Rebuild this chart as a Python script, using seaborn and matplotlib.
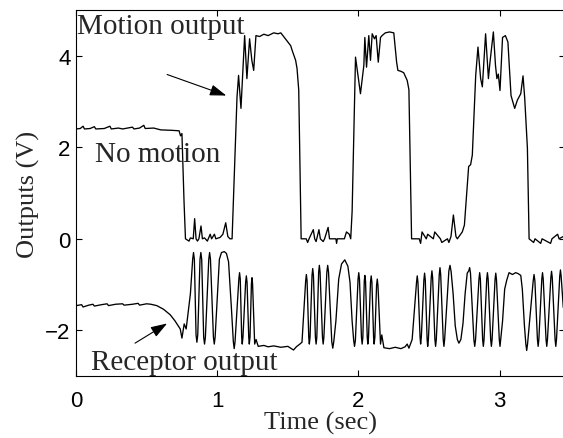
import matplotlib
matplotlib.use("Agg")
import matplotlib.pyplot as plt
import seaborn as sns
import pandas as pd

sns.set_theme(style="ticks")
SERIF = ["Liberation Serif", "DejaVu Serif"]
SANS = ["Liberation Sans", "DejaVu Sans"]
plt.rcParams['font.family'] = SANS

# Motion output trace (time in s, volts)
motion_t = [0.00, 0.03, 0.05, 0.06, 0.10, 0.13, 0.14, 0.20, 0.24, 0.25, 0.30, 0.33, 0.40, 0.41,
            0.45, 0.48, 0.49, 0.55, 0.60, 0.68, 0.73, 0.74, 0.75, 0.765, 0.775,
            0.80, 0.81, 0.83, 0.84, 0.85, 0.86, 0.87, 0.885, 0.895, 0.91, 0.93, 0.95, 0.96,
            0.98, 0.99, 1.02, 1.04, 1.06, 1.075, 1.09, 1.105,
            1.14, 1.151, 1.168, 1.194, 1.21, 1.229, 1.245, 1.258, 1.274, 1.30, 1.33, 1.36,
            1.40, 1.43, 1.45, 1.48, 1.50, 1.52, 1.53, 1.555, 1.565, 1.577, 1.594,
            1.63, 1.64, 1.65, 1.68, 1.69, 1.70, 1.72, 1.73, 1.75, 1.76, 1.785, 1.795,
            1.84, 1.845, 1.85, 1.90, 1.915, 1.935, 1.945,
            1.955, 1.979, 2.014, 2.038, 2.045, 2.057, 2.073, 2.085, 2.097, 2.113, 2.125,
            2.140, 2.156, 2.167, 2.19, 2.22, 2.25, 2.27, 2.279, 2.30, 2.32, 2.345, 2.357, 2.376,
            2.43, 2.44, 2.45, 2.48, 2.49, 2.53, 2.54, 2.58, 2.59, 2.63, 2.64, 2.655, 2.672,
            2.69, 2.70, 2.735, 2.75, 2.764, 2.78, 2.794, 2.806,
            2.83, 2.846, 2.865, 2.877, 2.90, 2.92, 2.93, 2.955, 2.97, 2.98, 2.99, 3.002,
            3.02, 3.04, 3.058, 3.08, 3.106, 3.125, 3.149, 3.165, 3.177, 3.196, 3.208,
            3.24, 3.25, 3.29, 3.30, 3.36, 3.37, 3.41, 3.42, 3.45]
motion_v = [2.40, 2.41, 2.46, 2.40, 2.41, 2.45, 2.40, 2.41, 2.46, 2.40, 2.42, 2.40, 2.44, 2.40,
            2.42, 2.48, 2.41, 2.42, 2.38, 2.37, 2.36, 2.25, 2.30, 0.80, 0.00,
            -0.05, 0.02, 0.00, 0.44, 0.00, -0.05, 0.00, 0.28, 0.00, 0.02, -0.05, 0.10, 0.00,
            0.10, 0.00, 0.03, 0.10, 0.35, 0.05, 0.00, 0.00,
            3.10, 3.57, 2.85, 4.44, 3.50, 4.37, 3.90, 3.68, 4.44, 4.42, 4.47, 4.44,
            4.50, 4.48, 4.50, 4.38, 4.30, 4.22, 4.12, 3.90, 3.72, 3.25, 0.00,
            0.00, -0.08, 0.00, 0.20, 0.00, -0.06, 0.20, 0.00, -0.06, 0.00, 0.25, 0.00,
            0.00, -0.10, 0.00, 0.00, 0.15, 0.10, 0.00,
            0.60, 3.97, 3.17, 3.79, 4.40, 3.75, 4.44, 3.90, 4.48, 4.37, 4.44,
            3.86, 4.40, 4.44, 4.50, 4.52, 4.50, 3.86, 3.68, 3.66, 3.63, 3.46, 3.26, 0.00,
            0.00, -0.10, 0.15, 0.00, 0.10, 0.00, 0.15, 0.00, -0.08, 0.00, -0.08, 0.05, 0.52,
            0.05, 0.00, 0.15, 0.30, 0.90, 1.58, 1.62, 1.83,
            3.57, 4.19, 3.50, 3.32, 4.48, 3.50, 3.83, 4.52, 3.79, 3.50, 3.60, 3.24,
            4.40, 4.44, 4.30, 3.13, 2.85, 3.03, 3.17, 3.56, 3.07, 1.98, 0.00,
            -0.08, 0.00, -0.10, 0.00, -0.10, 0.00, 0.10, 0.00, 0.05]

# Receptor output trace (time in s, volts), one row per stretch of the trace
receptor_t = [0.00, 0.04, 0.05, 0.09, 0.12, 0.13, 0.18, 0.22, 0.23, 0.28, 0.33, 0.34, 0.40,
              0.44, 0.45, 0.50, 0.53, 0.572, 0.62, 0.667, 0.70, 0.738, 0.75, 0.766, 0.78,
              0.797, 0.81,
              0.826, 0.832, 0.838, 0.850, 0.856, 0.862, 0.878, 0.884, 0.890,
              0.904, 0.910, 0.916, 0.940, 0.946, 0.952, 0.973, 0.979, 0.985,
              1.00, 1.015, 1.03, 1.05, 1.065, 1.08, 1.10,
              1.114, 1.120, 1.126, 1.153, 1.158, 1.163, 1.173, 1.177, 1.182,
              1.201, 1.206, 1.211, 1.223, 1.227, 1.232, 1.242, 1.246, 1.250,
              1.265, 1.275, 1.29, 1.33, 1.36, 1.40, 1.45, 1.50, 1.54, 1.56, 1.585, 1.60,
              1.626, 1.631, 1.636, 1.648, 1.652, 1.657, 1.671, 1.676, 1.681,
              1.695, 1.700, 1.705, 1.718, 1.723, 1.728, 1.745, 1.750, 1.755,
              1.776, 1.782, 1.788, 1.811, 1.818, 1.825,
              1.84, 1.86, 1.88, 1.903, 1.925, 1.94, 1.955,
              1.966, 1.972, 1.978, 1.997, 2.002, 2.007, 2.021, 2.026, 2.031,
              2.041, 2.045, 2.050, 2.062, 2.066, 2.071, 2.085, 2.090, 2.095,
              2.107, 2.111, 2.116, 2.128, 2.133, 2.138,
              2.156, 2.165, 2.18, 2.22, 2.26, 2.30, 2.33, 2.345, 2.357, 2.38,
              2.411, 2.416, 2.421, 2.436, 2.440, 2.445, 2.463, 2.468, 2.473,
              2.486, 2.490, 2.495, 2.515, 2.520, 2.525, 2.541, 2.546, 2.551,
              2.572, 2.577, 2.582, 2.600, 2.605, 2.610, 2.640, 2.648, 2.656,
              2.67, 2.685, 2.70, 2.711, 2.725, 2.74, 2.755, 2.77,
              2.781, 2.787, 2.793, 2.817, 2.823, 2.829, 2.853, 2.858, 2.863,
              2.879, 2.884, 2.889, 2.908, 2.913, 2.918, 2.936, 2.941, 2.946,
              2.967, 2.972, 2.977, 2.997, 3.002, 3.007,
              3.02, 3.035, 3.05, 3.066, 3.09, 3.113, 3.13, 3.149, 3.16, 3.175,
              3.185, 3.191, 3.197, 3.237, 3.243, 3.249, 3.267, 3.272, 3.277,
              3.298, 3.303, 3.308, 3.328, 3.333, 3.338, 3.362, 3.367, 3.372,
              3.392, 3.397, 3.402, 3.425, 3.430, 3.435, 3.45]
receptor_v = [-1.46, -1.44, -1.49, -1.45, -1.43, -1.47, -1.44, -1.42, -1.46, -1.43, -1.42, -1.45, -1.43,
              -1.41, -1.45, -1.42, -1.43, -1.46, -1.54, -1.66, -1.79, -1.97, -2.17, -1.86, -1.97,
              -1.54, -1.20,
              -0.45, -0.30, -0.45, -2.10, -2.26, -2.10, -0.45, -0.30, -0.45,
              -2.15, -2.30, -2.15, -0.45, -0.30, -0.45, -2.15, -2.30, -2.15,
              -1.30, -0.45, -0.30, -0.28, -0.32, -0.50, -1.50,
              -2.25, -2.40, -2.25, -0.88, -0.74, -0.88, -2.15, -2.30, -2.15,
              -0.95, -0.81, -0.95, -2.15, -2.30, -2.15, -0.98, -0.85, -0.98,
              -2.30, -2.20, -2.35, -2.33, -2.36, -2.34, -2.37, -2.35, -2.43, -2.36, -2.30, -2.26,
              -0.92, -0.78, -0.92, -2.15, -2.30, -2.15, -0.80, -0.65, -0.80,
              -2.15, -2.30, -2.15, -0.73, -0.58, -0.73, -2.15, -2.30, -2.15,
              -0.73, -0.58, -0.73, -2.25, -2.39, -2.25,
              -1.80, -0.88, -0.55, -0.46, -0.60, -0.95, -1.80,
              -2.22, -2.35, -2.22, -0.88, -0.74, -0.88, -2.15, -2.30, -2.15,
              -0.93, -0.80, -0.93, -2.15, -2.30, -2.15, -0.95, -0.81, -0.95,
              -2.15, -2.30, -2.15, -1.02, -0.88, -1.02,
              -2.30, -2.10, -2.38, -2.40, -2.37, -2.40, -2.36, -2.30, -2.39, -2.20,
              -0.95, -0.81, -0.95, -2.15, -2.30, -2.15, -0.90, -0.75, -0.90,
              -2.20, -2.35, -2.20, -0.85, -0.70, -0.85, -2.20, -2.35, -2.20,
              -0.78, -0.63, -0.78, -2.20, -2.35, -2.20, -0.70, -0.58, -0.72,
              -1.20, -1.90, -2.20, -2.28, -2.20, -1.85, -1.20, -0.75,
              -0.70, -0.63, -0.75, -2.20, -2.35, -2.20, -0.88, -0.74, -0.88,
              -2.20, -2.35, -2.20, -0.88, -0.74, -0.88, -2.20, -2.35, -2.20,
              -0.89, -0.75, -0.89, -2.20, -2.35, -2.20,
              -1.80, -1.10, -0.90, -0.74, -0.78, -0.74, -0.76, -0.80, -1.10, -1.90,
              -2.30, -2.44, -2.30, -0.92, -0.78, -0.92, -2.20, -2.35, -2.20,
              -0.88, -0.74, -0.88, -2.20, -2.35, -2.20, -0.85, -0.71, -0.85,
              -2.20, -2.35, -2.20, -0.82, -0.68, -0.82, -1.50]

x_ticks = [0, 1, 2, 3]
y_ticks = [-2, 0, 2, 4]
y_tick_labels = ["\u22122", "0", "2", "4"]

motion = pd.DataFrame({"t": motion_t, "v": motion_v})
receptor = pd.DataFrame({"t": receptor_t, "v": receptor_v})

fig = plt.figure(figsize=(5.63, 4.39), dpi=100)
ax = fig.add_axes([0.135, 0.141, 0.868, 0.834])

sns.lineplot(data=motion, x="t", y="v", ax=ax, color="black", lw=0.95,
             estimator=None, sort=False)
sns.lineplot(data=receptor, x="t", y="v", ax=ax, color="black", lw=0.95,
             estimator=None, sort=False)

ax.set_xlim(0, 3.46)
ax.set_ylim(-3, 5)
ax.set_xticks(x_ticks)
ax.set_yticks(y_ticks)
ax.set_xticklabels([str(v) for v in x_ticks])
ax.set_yticklabels(y_tick_labels)
ax.tick_params(direction="in", length=4, width=0.8, colors="black",
               top=True, right=True, labelsize=16)
ax.tick_params(axis="x", pad=10)
ax.tick_params(axis="y", pad=4)
for s in ax.spines.values():
    s.set_color("black")
    s.set_linewidth(0.8)

ax.set_xlabel("Time (sec)", family=SERIF, fontsize=19, labelpad=0)
ax.set_ylabel("Outputs (V)", family=SERIF, fontsize=19, labelpad=4)

# annotations
ax.text(0.007, 4.50, "Motion output", family=SERIF, fontsize=21, va="baseline")
ax.text(0.135, 1.70, "No motion", family=SERIF, fontsize=21, va="baseline")
ax.text(0.104, -2.85, "Receptor output", family=SERIF, fontsize=21, va="baseline")
arrow = dict(arrowstyle="-|>,head_length=0.5,head_width=0.17", color="black",
             lw=0.8, mutation_scale=20, shrinkA=0, shrinkB=0)
ax.annotate("", xy=(1.064, 3.13), xytext=(0.645, 3.59), arrowprops=arrow)
ax.annotate("", xy=(0.645, -1.85), xytext=(0.418, -2.28), arrowprops=arrow)

fig.savefig("out.png", dpi=100)
